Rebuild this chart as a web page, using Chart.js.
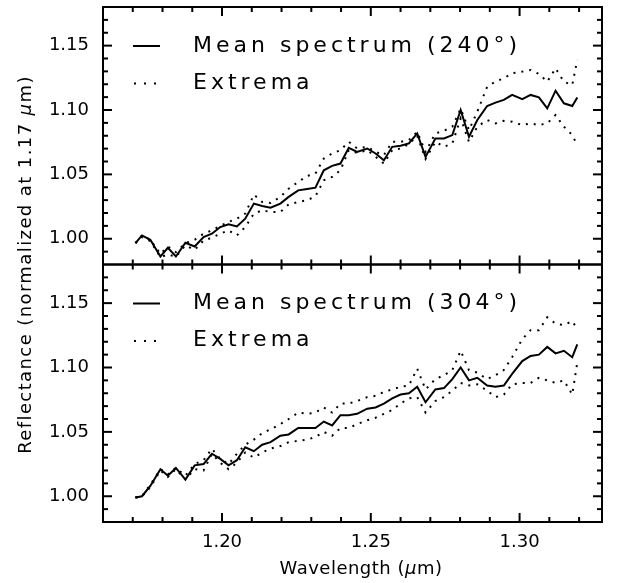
<!DOCTYPE html>
<html>
<head>
<meta charset="utf-8">
<script src="https://cdn.jsdelivr.net/npm/chart.js@4.4.1/dist/chart.umd.min.js"></script>
<style>
  body { margin: 0; background: #fff; }
  #wrap { width: 623px; height: 583px; }
</style>
</head>
<body>
<div id="wrap"><canvas id="myChart" width="623" height="583"></canvas></div>
<script>
// wavelengths (um) of the spectral samples
var wavelength = [1.1709, 1.1731, 1.1759, 1.1793, 1.1818, 1.1845, 1.1877, 1.1908, 1.1938, 1.1966,
	1.1994, 1.2022, 1.2050, 1.2078, 1.2107, 1.2135, 1.2163, 1.2196, 1.2224, 1.2256,
	1.2286, 1.2314, 1.2342, 1.2370, 1.2398, 1.2426, 1.2454, 1.2488, 1.2516, 1.2544,
	1.2572, 1.2600, 1.2628, 1.2656, 1.2684, 1.2717, 1.2746, 1.2774, 1.2802, 1.2830,
	1.2858, 1.2891, 1.2919, 1.2947, 1.2975, 1.3009, 1.3037, 1.3065, 1.3093, 1.3121,
	1.3149, 1.3177, 1.3194];

// upper panel (240 deg)
var mean240 = [0.9966, 1.0026, 0.9992, 0.9862, 0.9930, 0.9862, 0.9969, 0.9940, 1.0013, 1.0039,
	1.0091, 1.0112, 1.0096, 1.0156, 1.0273, 1.0254, 1.0241, 1.0273, 1.0325, 1.0376,
	1.0387, 1.0397, 1.0532, 1.0566, 1.0584, 1.0706, 1.0675, 1.0701, 1.0662, 1.0610,
	1.0714, 1.0722, 1.0740, 1.0818, 1.0636, 1.0779, 1.0779, 1.0805, 1.1000, 1.0792,
	1.0922, 1.1031, 1.1057, 1.1078, 1.1117, 1.1085, 1.1117, 1.1098, 1.1013, 1.1150,
	1.1052, 1.1031, 1.1098];
var max240 = [0.9966, 1.0026, 0.9992, 0.9883, 0.9940, 0.9896, 0.9966, 0.9992, 1.0039, 1.0065,
	1.0100, 1.0130, 1.0156, 1.0195, 1.0343, 1.0286, 1.0278, 1.0325, 1.0389, 1.0441,
	1.0488, 1.0506, 1.0623, 1.0662, 1.0688, 1.0753, 1.0701, 1.0714, 1.0675, 1.0649,
	1.0753, 1.0753, 1.0766, 1.0830, 1.0675, 1.0818, 1.0839, 1.0870, 1.1010, 1.0844,
	1.0987, 1.1181, 1.1220, 1.1246, 1.1285, 1.1298, 1.1311, 1.1280, 1.1220, 1.1324,
	1.1220, 1.1194, 1.1389];
var min240 = [0.9966, 1.0013, 0.9982, 0.9857, 0.9878, 0.9862, 0.9948, 0.9914, 0.9987, 1.0008,
	1.0039, 1.0065, 1.0026, 1.0091, 1.0195, 1.0221, 1.0208, 1.0208, 1.0267, 1.0286,
	1.0299, 1.0330, 1.0454, 1.0480, 1.0532, 1.0688, 1.0667, 1.0688, 1.0636, 1.0584,
	1.0688, 1.0701, 1.0735, 1.0800, 1.0620, 1.0753, 1.0714, 1.0740, 1.0935, 1.0753,
	1.0870, 1.0922, 1.0896, 1.0916, 1.0909, 1.0883, 1.0896, 1.0883, 1.0896, 1.0961,
	1.0870, 1.0805, 1.0727];

// lower panel (304 deg)
var mean304 = [0.999, 1.000, 1.008, 1.021, 1.016, 1.022, 1.013, 1.024, 1.025, 1.033,
	1.029, 1.024, 1.028, 1.038, 1.035, 1.040, 1.042, 1.047, 1.048, 1.053,
	1.053, 1.053, 1.058, 1.055, 1.063, 1.063, 1.064, 1.068, 1.069, 1.072,
	1.076, 1.079, 1.080, 1.085, 1.073, 1.083, 1.084, 1.091, 1.100, 1.090,
	1.092, 1.086, 1.085, 1.086, 1.095, 1.105, 1.109, 1.110, 1.116, 1.111,
	1.113, 1.108, 1.118];
var max304 = [0.999, 1.000, 1.009, 1.021, 1.017, 1.022, 1.016, 1.025, 1.028, 1.037,
	1.029, 1.025, 1.033, 1.040, 1.044, 1.049, 1.052, 1.056, 1.060, 1.065,
	1.064, 1.065, 1.069, 1.065, 1.072, 1.072, 1.074, 1.077, 1.078, 1.081,
	1.083, 1.085, 1.086, 1.099, 1.083, 1.091, 1.094, 1.098, 1.113, 1.098,
	1.096, 1.091, 1.094, 1.098, 1.108, 1.122, 1.129, 1.129, 1.139, 1.134,
	1.133, 1.136, 1.130];
var min304 = [0.999, 1.000, 1.007, 1.020, 1.015, 1.021, 1.013, 1.021, 1.020, 1.033,
	1.026, 1.021, 1.026, 1.034, 1.030, 1.034, 1.037, 1.039, 1.042, 1.043,
	1.044, 1.046, 1.050, 1.047, 1.053, 1.053, 1.056, 1.059, 1.061, 1.064,
	1.067, 1.072, 1.076, 1.077, 1.065, 1.074, 1.077, 1.082, 1.088, 1.086,
	1.087, 1.082, 1.077, 1.079, 1.087, 1.088, 1.088, 1.092, 1.090, 1.088,
	1.090, 1.079, 1.104];

// labelled ticks
var yTicks = [1.00, 1.05, 1.10, 1.15];
var xTicks = [1.20, 1.25, 1.30];

var legendTop = ['Mean spectrum (240°)', 'Extrema'];
var legendBot = ['Mean spectrum (304°)', 'Extrema'];

var FONT = "'DejaVu Sans', sans-serif";

function pts(vals) {
	return vals.map((v, i) => ({ x: wavelength[i], y: v }));
}

function serie(vals, axis, dotted) {
	return {
		data: pts(vals),
		yAxisID: axis,
		borderColor: '#000',
		borderWidth: 2,
		borderDash: dotted ? [2, 6] : [],
		pointRadius: 0,
		tension: 0,
		fill: false
	};
}

function line(ctx, x1, y1, x2, y2) {
	ctx.beginPath();
	ctx.moveTo(x1, y1);
	ctx.lineTo(x2, y2);
	ctx.stroke();
}

// draws text made of pieces with different fonts, centred on (cx, cy)
function mixedText(ctx, parts, cx, cy, spacing) {
	ctx.letterSpacing = spacing + 'px';
	let total = 0;
	parts.forEach(p => { ctx.font = p.font; total += ctx.measureText(p.text).width; });
	let x = cx - total / 2;
	ctx.textAlign = 'left';
	ctx.textBaseline = 'middle';
	parts.forEach(p => {
		ctx.font = p.font;
		ctx.fillText(p.text, x, cy);
		x += ctx.measureText(p.text).width;
	});
	ctx.letterSpacing = '0px';
}

function legend(ctx, area, top, labels) {
	ctx.lineWidth = 2;
	ctx.setLineDash([]);
	line(ctx, area.left + 30, top + 39, area.left + 57, top + 39);
	ctx.setLineDash([2, 8]);
	line(ctx, area.left + 31, top + 76.5, area.left + 60, top + 76.5);
	ctx.setLineDash([]);
	ctx.font = '22px ' + FONT;
	ctx.letterSpacing = '4px';
	ctx.textAlign = 'left';
	ctx.textBaseline = 'middle';
	ctx.fillText(labels[0], area.left + 90, top + 39);
	ctx.fillText(labels[1], area.left + 90, top + 76);
	ctx.letterSpacing = '0px';
}

const panelDeco = {
	id: 'panelDeco',
	afterDraw(chart) {
		const ctx = chart.ctx, area = chart.chartArea, xs = chart.scales.x;
		ctx.save();
		ctx.strokeStyle = '#000';
		ctx.fillStyle = '#000';
		ctx.lineWidth = 2;
		['yTop', 'yBot'].forEach(id => {
			const ys = chart.scales[id];
			const t = ys.top, b = ys.bottom;
			ctx.strokeRect(area.left, t, area.right - area.left, b - t);
			for (let k = 98; k <= 118; k++) {
				const p = ys.getPixelForValue(k / 100);
				if (p > b - 1 || p < t + 1) continue;
				const len = k % 5 === 0 ? 9 : 5;
				line(ctx, area.left, p, area.left + len, p);
				line(ctx, area.right, p, area.right - len, p);
			}
			for (let k = 116; k <= 133; k++) {
				const p = xs.getPixelForValue(k / 100);
				if (p < area.left + 1 || p > area.right - 1) continue;
				const len = k % 5 === 0 ? 9 : 5;
				line(ctx, p, b, p, b - len);
				line(ctx, p, t, p, t + len);
			}
		});
		legend(ctx, area, chart.scales.yTop.top, legendTop);
		legend(ctx, area, chart.scales.yBot.top, legendBot);

		// axis titles
		mixedText(ctx, [
			{ text: 'Wavelength (', font: '18px ' + FONT },
			{ text: 'µ', font: 'italic 18px ' + FONT },
			{ text: 'm)', font: '18px ' + FONT }
		], 361, 569, 0.5);
		ctx.save();
		ctx.translate(26, (area.top + area.bottom) / 2);
		ctx.rotate(-Math.PI / 2);
		mixedText(ctx, [
			{ text: 'Reflectance (normalized at 1.17 ', font: '18px ' + FONT },
			{ text: 'µ', font: 'italic 18px ' + FONT },
			{ text: 'm)', font: '18px ' + FONT }
		], 0, 0, 1.4);
		ctx.restore();
		ctx.restore();
	}
};

function yAxis() {
	return {
		type: 'linear',
		position: 'left',
		stack: 'panels',
		stackWeight: 1,
		min: 0.98,
		max: 1.18,
		grid: { display: false, drawTicks: false },
		border: { display: false },
		afterBuildTicks: s => { s.ticks = yTicks.map(v => ({ value: v })); },
		ticks: {
			padding: 14,
			color: '#000',
			font: { family: FONT, size: 18 },
			callback: v => v.toFixed(2)
		},
		afterFit: s => { s.width = 103; s.paddingTop = 0; s.paddingBottom = 0; }
	};
}

const ctx = document.getElementById('myChart');
new Chart(ctx, {
	type: 'line',
	data: {
		datasets: [
			serie(mean304, 'yBot', false),
			serie(max304, 'yBot', true),
			serie(min304, 'yBot', true),
			serie(mean240, 'yTop', false),
			serie(max240, 'yTop', true),
			serie(min240, 'yTop', true)
		]
	},
	options: {
		responsive: false,
		animation: false,
		events: [],
		layout: { padding: { top: 7, right: 21, left: 0, bottom: 0 } },
		plugins: { legend: { display: false }, tooltip: { enabled: false } },
		scales: {
			x: {
				type: 'linear',
				position: 'bottom',
				min: 1.16,
				max: 1.3277,
				grid: { display: false, drawTicks: false },
				border: { display: false },
				afterBuildTicks: s => { s.ticks = xTicks.map(v => ({ value: v })); },
				ticks: {
					maxRotation: 0,
					autoSkip: false,
					padding: 10,
					color: '#000',
					font: { family: FONT, size: 18 },
					callback: v => v.toFixed(2)
				},
				afterFit: s => { s.height = 61; s.paddingLeft = 0; s.paddingRight = 0; }
			},
			yBot: yAxis(),
			yTop: yAxis()
		}
	},
	plugins: [panelDeco]
});
</script>
</body>
</html>
